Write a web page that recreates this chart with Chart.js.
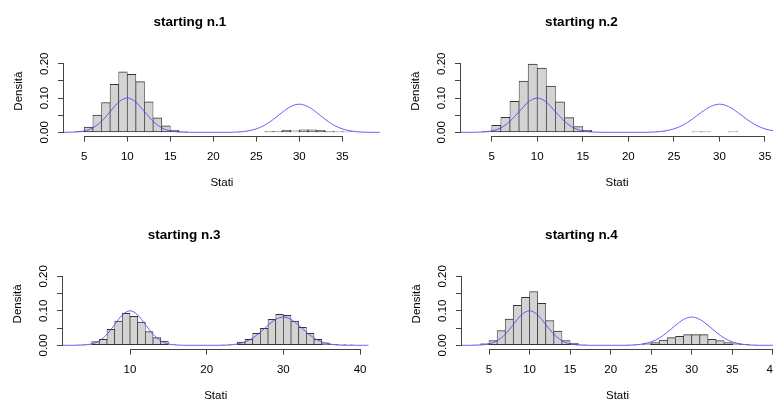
<!DOCTYPE html>
<html>
<head>
<meta charset="utf-8">
<script src="https://cdn.jsdelivr.net/npm/chart.js@4.4.1/dist/chart.umd.min.js"></script>
<style>
  body { margin: 0; width: 773px; height: 401px; overflow: hidden; background: #fff; position: relative; }
  canvas { position: absolute; }
</style>
</head>
<body>
<canvas id="c1" width="390" height="200" style="left:0;top:0"></canvas>
<canvas id="c2" width="383" height="200" style="left:390px;top:0"></canvas>
<canvas id="c3" width="390" height="200" style="left:0;top:213px"></canvas>
<canvas id="c4" width="383" height="200" style="left:390px;top:213px"></canvas>
<script>
// density curve (same mixture in every panel), read at integer states
const curveX = [1, 2, 3, 4, 5, 6, 7, 8, 9, 10, 11, 12, 13, 14, 15, 16, 17, 18, 19, 20, 21,
  22, 23, 24, 25, 26, 27, 28, 29, 30, 31, 32, 33, 34, 35, 36, 37, 38, 39, 40, 41, 42];
const curveY = [0, 0, 0, 0.001, 0.004, 0.013, 0.032, 0.060, 0.088, 0.100, 0.088, 0.060, 0.032, 0.013, 0.004, 0.001, 0, 0, 0, 0, 0,
  0, 0.001, 0.004, 0.010, 0.021, 0.038, 0.058, 0.075, 0.082, 0.075, 0.058, 0.038, 0.021, 0.010, 0.004, 0.001, 0, 0, 0, 0, 0];

// histograms: first bin edge + density of each unit bin
const titles = ["starting n.1", "starting n.2", "starting n.3", "starting n.4"];

const start1 = 4;
const hist1 = [0.003, 0.015, 0.050, 0.087, 0.140, 0.176, 0.169, 0.148, 0.089, 0.042, 0.019, 0.006, 0.002,
  0, 0, 0, 0, 0, 0, 0.001, 0, 0,
  0.003, 0.003, 0.006, 0.004, 0.007, 0.007, 0.006, 0.003, 0.002, 0.002, 0.001];

const start2 = 4;
const hist2 = [0.003, 0.020, 0.044, 0.090, 0.149, 0.199, 0.187, 0.135, 0.089, 0.043, 0.017, 0.006,
  0, 0, 0, 0, 0, 0, 0, 0.001, 0, 0, 0, 0.002, 0.002, 0, 0, 0.002, 0, 0, 0];

const start3 = 3;
const hist3 = [0.001, 0.002, 0.011, 0.017, 0.046, 0.070, 0.093, 0.084, 0.067, 0.040, 0.022, 0.012, 0.002,
  0, 0, 0, 0, 0, 0,
  0.001, 0.002, 0.009, 0.017, 0.035, 0.049, 0.075, 0.090, 0.087, 0.070, 0.052, 0.035, 0.017, 0.007, 0.003, 0.002, 0.002];

const start4 = 3;
const hist4 = [0.001, 0.005, 0.014, 0.043, 0.076, 0.116, 0.139, 0.156, 0.122, 0.072, 0.041, 0.014, 0.006, 0.002,
  0, 0, 0, 0, 0,
  0.001, 0.001, 0.005, 0.008, 0.015, 0.022, 0.026, 0.031, 0.031, 0.031, 0.017, 0.014, 0.008, 0.005, 0.003, 0.001];

const xTicks1 = [5, 10, 15, 20, 25, 30, 35];
const xTicks3 = [10, 20, 30, 40];
const xTicks4 = [5, 10, 15, 20, 25, 30, 35, 40];
const yTicks = [0, 0.05, 0.10, 0.15, 0.20];
const yLabels = ["0.00", "", "0.10", "", "0.20"];

const xTitle = "Stati";
const yTitle = "Densità";

const FONT = "'Liberation Sans', Arial, sans-serif";
const AXIS = "#444";
Chart.defaults.font.family = FONT;
Chart.defaults.color = "#000";

// R draws axis lines only from the first to the last tick
const rAxes = {
  id: "rAxes",
  afterDraw(chart) {
    const { ctx, scales: { x, y } } = chart;
    const xt = x.ticks, yt = y.ticks;
    ctx.save();
    ctx.strokeStyle = AXIS;
    ctx.lineWidth = 1;
    ctx.beginPath();
    const yb = Math.round(x.top) + 0.5;
    ctx.moveTo(x.getPixelForValue(xt[0].value), yb);
    ctx.lineTo(x.getPixelForValue(xt[xt.length - 1].value), yb);
    const xl = Math.round(y.right) - 0.5;
    ctx.moveTo(xl, y.getPixelForValue(yt[0].value));
    ctx.lineTo(xl, y.getPixelForValue(yt[yt.length - 1].value));
    ctx.stroke();
    ctx.restore();
  },
};

function makePanel(id, p) {
  const bars = p.hist.map((d, i) => ({ x: p.start + i + 0.5, y: d }));
  const curve = curveX.map((x, i) => ({ x: x, y: curveY[i] }));
  const H = 200;

  new Chart(document.getElementById(id), {
    type: "bar",
    data: {
      datasets: [
        {
          type: "line",
          data: curve,
          borderColor: "rgba(70, 70, 255, 0.85)",
          borderWidth: 1,
          pointRadius: 0,
          cubicInterpolationMode: "monotone",
          fill: false,
        },
        {
          type: "bar",
          data: bars,
          backgroundColor: "#d3d3d3",
          borderColor: "#333",
          borderWidth: { top: 1, left: 0.7, right: 0.7, bottom: 1 },
          borderSkipped: false,
          barPercentage: 1,
          categoryPercentage: 1,
        },
      ],
    },
    options: {
      responsive: false,
      animation: false,
      devicePixelRatio: 1,
      layout: { padding: { left: 0, right: p.padRight, top: 0, bottom: 0 } },
      plugins: {
        legend: { display: false },
        tooltip: { enabled: false },
        title: {
          display: true,
          text: p.title,
          color: "#000",
          font: { size: 13.5, weight: "bold" },
          padding: { top: 13.8, bottom: p.chartTop - 13.8 - 16.2 },
        },
      },
      scales: {
        x: {
          type: "linear",
          min: p.xMin,
          max: p.xMax,
          offset: false,
          afterBuildTicks: (s) => { s.ticks = p.xTicks.map((v) => ({ value: v })); },
          afterFit: (s) => { s.height = H - p.chartBottom; s.paddingLeft = 0; s.paddingRight = 0; },
          border: { display: false },
          grid: { offset: false, drawOnChartArea: false, drawTicks: true, tickLength: 6, color: AXIS, lineWidth: 1 },
          ticks: { autoSkip: false, maxRotation: 0, padding: 8, font: { size: 11.5 }, color: "#000", callback: (v) => String(v) },
          title: { display: true, text: xTitle, font: { size: 11.5 }, color: "#000", padding: { top: 0, bottom: 10.1 } },
        },
        y: {
          min: -0.0096,
          max: 0.2496,
          afterBuildTicks: (s) => { s.ticks = yTicks.map((v) => ({ value: v })); },
          afterFit: (s) => { s.width = p.chartLeft; s.paddingTop = 0; s.paddingBottom = 0; },
          border: { display: false },
          grid: { drawOnChartArea: false, drawTicks: true, tickLength: 6, color: AXIS, lineWidth: 1 },
          ticks: {
            autoSkip: false, minRotation: 90, maxRotation: 90, crossAlign: "center", padding: 2.3,
            font: { size: 11.5 }, color: "#000",
            callback: (v, i) => yLabels[i],
          },
          title: { display: true, text: yTitle, font: { size: 11.5 }, color: "#000", padding: { top: p.chartLeft - 45 - 6.9, bottom: 0 } },
        },
      },
    },
    plugins: [rAxes],
  });
}

makePanel("c1", { title: titles[0], start: start1, hist: hist1, xTicks: xTicks1,
  xMin: 2.64, xMax: 39.36, chartLeft: 64, padRight: 10.2, chartTop: 46.7, chartBottom: 135.6 });
makePanel("c2", { title: titles[1], start: start2, hist: hist2, xTicks: xTicks1,
  xMin: 1.63, xMax: 35.88, chartLeft: 71, padRight: 0, chartTop: 46.7, chartBottom: 135.6 });
makePanel("c3", { title: titles[2], start: start3, hist: hist3, xTicks: xTicks3,
  xMin: 1.26, xMax: 41.09, chartLeft: 63, padRight: 21.6, chartTop: 46.2, chartBottom: 135.6 });
makePanel("c4", { title: titles[3], start: start4, hist: hist4, xTicks: xTicks4,
  xMin: 1.67, xMax: 40.02, chartLeft: 72, padRight: 0, chartTop: 46.2, chartBottom: 135.6 });
</script>
</body>
</html>
